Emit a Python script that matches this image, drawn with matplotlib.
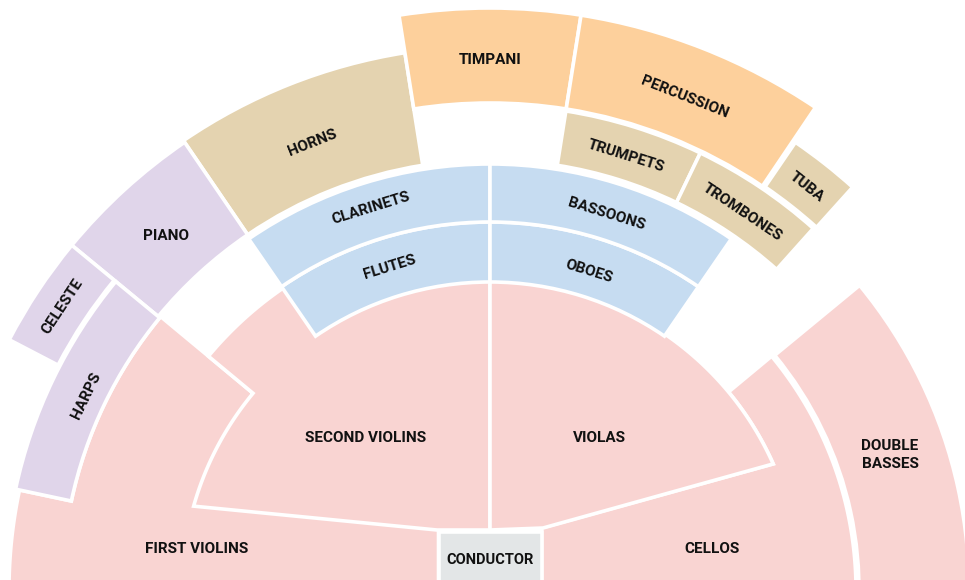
import numpy as np
import matplotlib.pyplot as plt
from matplotlib.patches import Wedge, Polygon, Rectangle

plt.rcParams['font.family'] = ['Roboto', 'DejaVu Sans']

# ring sections around the conductor: angles in degrees, radii in px
ring_names = ['FLUTES', 'OBOES', 'CLARINETS', 'BASSOONS', 'HORNS', 'TIMPANI',
              'PERCUSSION', 'TRUMPETS', 'TROMBONES', 'TUBA', 'PIANO',
              'CELESTE', 'HARPS']
ring_t1 = [90, 55.5, 90, 55.5, 99, 81, 56, 64.3, 48.2, 48, 124.3, 140.5, 140.5]
ring_t2 = [124.5, 90, 124.5, 90, 124.3, 99, 81, 81, 64.3, 55.7, 140.5, 152.5, 168]
ring_r1 = [308, 308, 368, 368, 430, 487, 487, 430, 430, 488, 430, 487, 428]
ring_r2 = [368, 368, 426, 426, 544, 582, 582, 485, 485, 542, 542, 542, 485]
ring_lr = [338, 334, 400, 394, 481, 530, 530, 455, 454, 513, 480, 513, 448]
ring_group = ['wood', 'wood', 'wood', 'wood', 'brass', 'perc', 'perc',
              'brass', 'brass', 'brass', 'keys', 'keys', 'keys']
ring_flat = ['PIANO']  # labels kept horizontal

# strings block
fv_outer, fv_top = 481, 140.3
sv_outer, sv_inner, sv_low = 366, 308, 164.2
va_outer, va_low = 310, 24
vc_outer, vc_top = 366, 39.7
db_inner, db_outer, db_top = 369, 479, 39.5
box_w, box_top = 103, 58

string_labels = ['FIRST VIOLINS', 'SECOND VIOLINS', 'VIOLAS', 'CELLOS',
                 'DOUBLE\nBASSES', 'CONDUCTOR']
string_lx = [-293, -124, 109, 222, 400, 0]
string_ly = [41, 152, 152, 41, 135, 30]
string_fs = [11, 11, 11, 11, 11, 10.5]

colors = {'str': '#f9d4d2', 'wood': '#c6dcf1', 'brass': '#e4d3b0',
          'perc': '#fdd09c', 'keys': '#e0d5ea', 'cond': '#e3e6e7'}


def arc(r, a1, a2, n=80):
    t = np.radians(np.linspace(a1, a2, n))
    return np.column_stack([r * np.cos(t), r * np.sin(t)])


fig = plt.figure(figsize=(9.65, 5.8), dpi=100)
ax = fig.add_axes([0, 0, 1, 1])
ax.set_xlim(-490, 475)
ax.set_ylim(10, 590)
ax.set_aspect('equal')
ax.axis('off')

kw = dict(facecolor=colors['str'], edgecolor='white', lw=2.6)

# first violins
fv = np.vstack([arc(fv_outer, 195, 168), arc(428, 168, fv_top),
                arc(sv_inner, fv_top, fv_top, 2), [(-box_w / 2, 60), (-box_w / 2, -40)]])
ax.add_patch(Polygon(fv, **kw))

# cellos
vc = np.vstack([[(box_w / 2, -40), (box_w / 2, 62)], arc(va_outer, va_low, vc_top),
                arc(vc_outer, vc_top, -15)])
ax.add_patch(Polygon(vc, **kw))

# double basses
ax.add_patch(Wedge((0, 0), db_outer, -15, db_top, width=db_outer - db_inner, **kw))

# second violins
sv = np.vstack([arc(sv_outer, 90, fv_top), arc(sv_inner, fv_top, sv_low),
                [(-53, 60), (0, 60)]])
ax.add_patch(Polygon(sv, **kw))

# violas
va = np.vstack([[(0, 60), (53, 62)], arc(va_outer, va_low, 90)])
ax.add_patch(Polygon(va, **kw))

# winds, brass, percussion, keyboards
for name, t1, t2, r1, r2, lr, g in zip(ring_names, ring_t1, ring_t2, ring_r1,
                                       ring_r2, ring_lr, ring_group):
    ax.add_patch(Wedge((0, 0), r2, t1, t2, width=r2 - r1,
                       facecolor=colors[g], edgecolor='white', lw=2.6))
    mid = (t1 + t2) / 2
    rot = 0 if name in ring_flat else mid - 90
    ax.text(lr * np.cos(np.radians(mid)), lr * np.sin(np.radians(mid)), name,
            rotation=rot, rotation_mode='anchor', ha='center', va='center',
            fontsize=11, fontweight='bold', color='#111111')

# conductor
ax.add_patch(Rectangle((-box_w / 2, -40), box_w, box_top + 40,
                       facecolor=colors['cond'], edgecolor='white', lw=2.6))

for lab, x, y, fs in zip(string_labels, string_lx, string_ly, string_fs):
    ax.text(x, y, lab, ha='center', va='center', fontsize=fs,
            fontweight='bold', color='#111111', linespacing=1.35)

fig.savefig('out.png', dpi=100)
